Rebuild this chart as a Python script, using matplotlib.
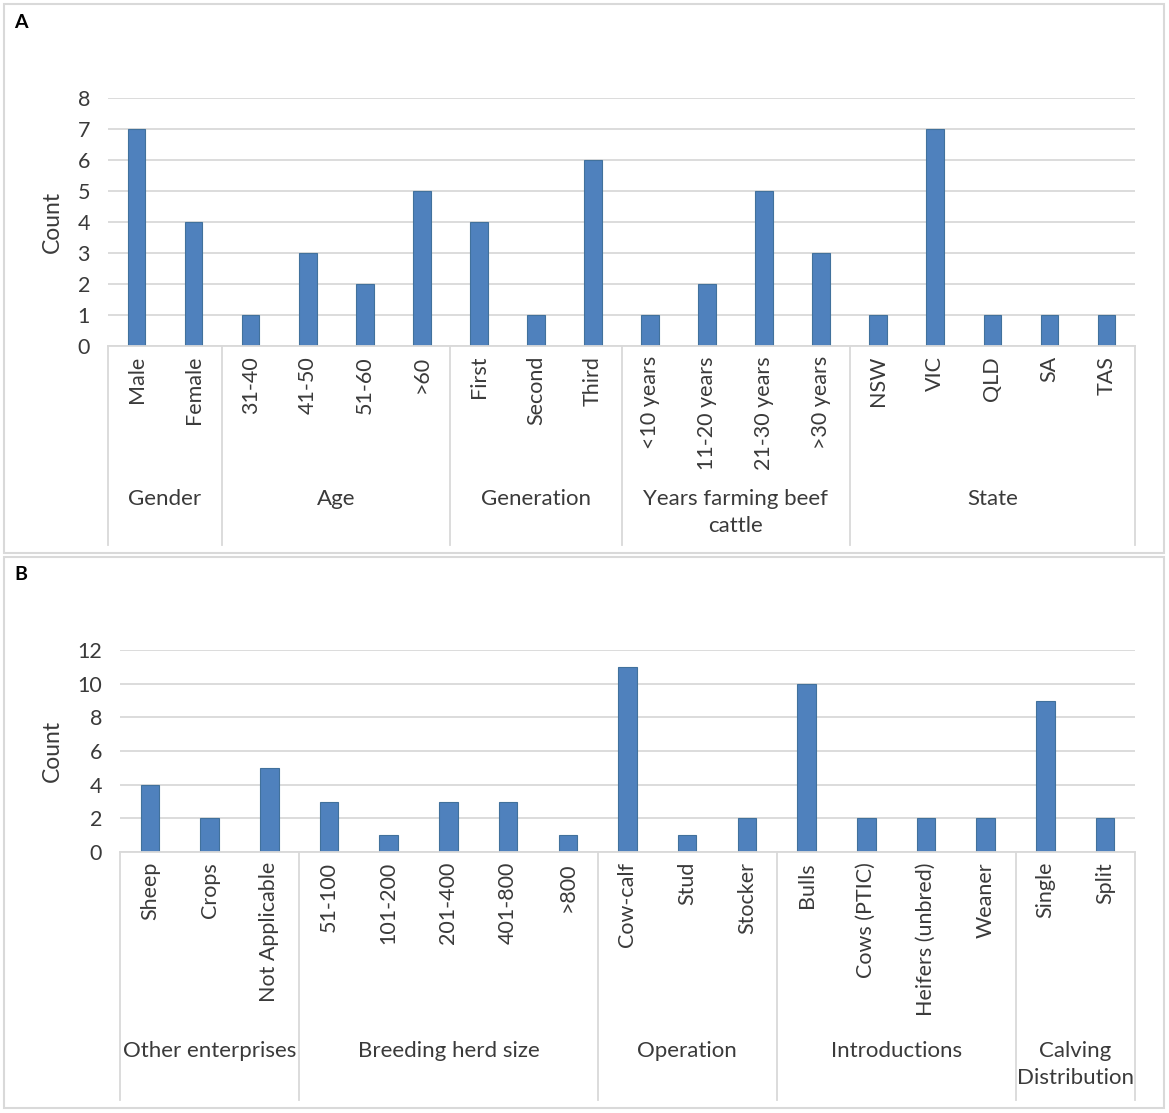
import matplotlib.pyplot as plt
from matplotlib.patches import Rectangle
from matplotlib.transforms import blended_transform_factory

plt.rcParams['font.family'] = ['Lato', 'DejaVu Sans']

# panel A data
a_groups = ['Gender', 'Age', 'Generation', 'Years farming beef\ncattle', 'State']
a_cats = [['Male', 'Female'],
          ['31-40', '41-50', '51-60', '>60'],
          ['First', 'Second', 'Third'],
          ['<10 years', '11-20 years', '21-30 years', '>30 years'],
          ['NSW', 'VIC', 'QLD', 'SA', 'TAS']]
a_vals = [[7, 4],
          [1, 3, 2, 5],
          [4, 1, 6],
          [1, 2, 5, 3],
          [1, 7, 1, 1, 1]]
a_ticks = [0, 1, 2, 3, 4, 5, 6, 7, 8]

# panel B data
b_groups = ['Other enterprises', 'Breeding herd size', 'Operation',
            'Introductions', 'Calving\nDistribution']
b_cats = [['Sheep', 'Crops', 'Not Applicable'],
          ['51-100', '101-200', '201-400', '401-800', '>800'],
          ['Cow-calf', 'Stud', 'Stocker'],
          ['Bulls', 'Cows (PTIC)', 'Heifers (unbred)', 'Weaner'],
          ['Single', 'Split']]
b_vals = [[4, 2, 5],
          [3, 1, 3, 3, 1],
          [11, 1, 2],
          [10, 2, 2, 2],
          [9, 2]]
b_ticks = [0, 2, 4, 6, 8, 10, 12]

W, H = 1169, 1113
BAR = '#4F81BD'
EDGE = '#41719C'
GRID = '#D9D9D9'
TXT = '#3A3A3A'

fig = plt.figure(figsize=(W / 100, H / 100), dpi=100)


def px(x0, y0, x1, y1):
    # pixel box (top-left origin) -> figure fraction rect
    return [x0 / W, 1 - y1 / H, (x1 - x0) / W, (y1 - y0) / H]


def panel(box, axbox, letter, groups, cats, vals, ticks, sep_bottom, group_y, ylab_x):
    fig.patches.append(Rectangle((box[0] / W, 1 - box[3] / H),
                                 (box[2] - box[0]) / W, (box[3] - box[1]) / H,
                                 transform=fig.transFigure, fill=False,
                                 edgecolor=GRID, lw=1.5))
    fig.text((box[0] + 10) / W, 1 - (box[1] + 18) / H, letter,
             fontsize=14, fontweight='bold', va='center', ha='left')

    ax = fig.add_axes(px(*axbox))
    labels = [c for g in cats for c in g]
    values = [v for g in vals for v in g]
    xs = list(range(len(labels)))
    ax.bar(xs, values, width=0.31, color=BAR, edgecolor=EDGE, lw=0.8, zorder=3)
    ax.set_xlim(-0.5, len(labels) - 0.5)
    ax.set_ylim(ticks[0], ticks[-1])
    ax.set_yticks(ticks)
    ax.set_xticks([])
    ax.yaxis.grid(True, color=GRID, lw=1.3)
    ax.set_axisbelow(True)
    for s in ['top', 'right', 'left']:
        ax.spines[s].set_visible(False)
    ax.spines['bottom'].set_color(GRID)
    ax.spines['bottom'].set_linewidth(1.3)
    ax.spines['bottom'].set_zorder(4)
    ax.tick_params(axis='y', length=0, pad=13, labelsize=15.5, labelcolor=TXT)

    fig.text(ylab_x / W, 1 - ((axbox[1] + axbox[3]) / 2) / H, 'Count',
             rotation=90, fontsize=16.5, color=TXT, ha='center', va='center')

    tr = blended_transform_factory(ax.transData, fig.transFigure)
    y_axis = 1 - axbox[3] / H
    y_sep = 1 - sep_bottom / H
    y_cat = 1 - (axbox[3] + 10) / H
    y_grp = 1 - group_y / H

    for x, lab in zip(xs, labels):
        ax.text(x, y_cat, lab, transform=tr, rotation=90, ha='center', va='top',
                fontsize=15.5, color=TXT)

    start = 0
    edges = [-0.5]
    for g, c in zip(groups, cats):
        end = start + len(c)
        edges.append(end - 0.5)
        mid = (start + end - 1) / 2
        ax.text(mid, y_grp, g, transform=tr, ha='center', va='top',
                fontsize=16, color=TXT, linespacing=1.45)
        start = end
    for e in edges:
        ax.plot([e, e], [y_axis, y_sep], transform=tr, color=GRID, lw=1.3,
                clip_on=False)
    return ax


panel((4, 4, 1164, 553), (108, 98, 1135, 346), 'A', a_groups, a_cats, a_vals,
      a_ticks, 545, 489, 52)
panel((4, 557, 1164, 1108), (120, 650, 1135, 852), 'B', b_groups, b_cats, b_vals,
      b_ticks, 1100, 1041, 52)

fig.savefig('out.png', dpi=100, facecolor='white')
